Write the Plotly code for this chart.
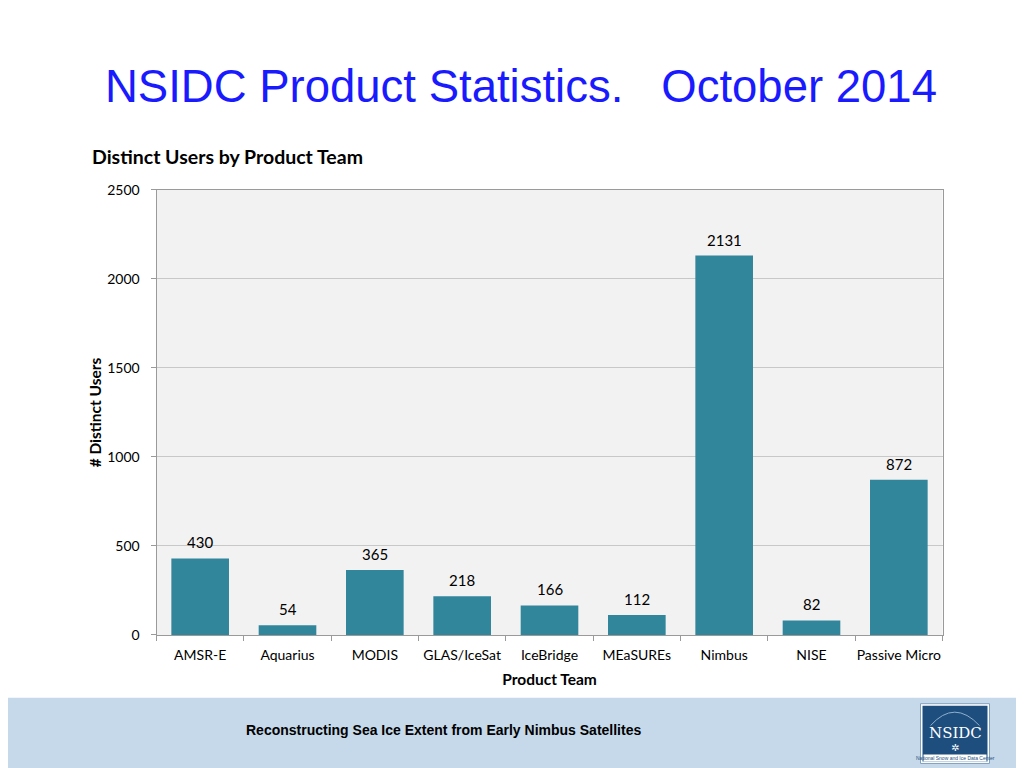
import plotly.graph_objects as go

categories = ["AMSR-E", "Aquarius", "MODIS", "GLAS/IceSat", "IceBridge", "MEaSUREs", "Nimbus", "NISE", "Passive Micro"]
users = [430, 54, 365, 218, 166, 112, 2131, 82, 872]
y_ticks = [0, 500, 1000, 1500, 2000, 2500]

W, H = 1024, 768
# map target screen pixels to paper fractions (page places the figure with a small offset)
def px(x): return (x - 7.5) / W
def py(y): return 1 - ((y - 15.4) / 0.982) / H

FONT = "Lato, Open Sans, sans-serif"

fig = go.Figure()
fig.add_trace(go.Bar(
    x=categories, y=users, width=0.66,
    marker=dict(color="#31869b", line=dict(width=0)),
    hoverinfo="x+y",
))

for c, v in zip(categories, users):
    fig.add_annotation(x=c, y=v, xref="x", yref="y", text=str(v), showarrow=False,
                       yanchor="bottom", yshift=5,
                       font=dict(family=FONT, size=15, color="#000000"))

fig.update_layout(
    width=W, height=H,
    margin=dict(l=0, r=0, t=0, b=0),
    paper_bgcolor="#ffffff",
    plot_bgcolor="#f2f2f2",
    showlegend=False,
    xaxis=dict(
        domain=[px(156), px(942)],
        tickson="boundaries", ticks="outside", ticklen=5, tickcolor="#9a9a9a",
        showline=True, linecolor="#9a9a9a", linewidth=1, mirror=True,
        tickfont=dict(family=FONT, size=14, color="#000000"),
        tickangle=0,
        ticklabelstandoff=7,
        title=dict(text="<b>Product Team</b>", font=dict(family=FONT, size=15.5, color="#000000"), standoff=12),
        showgrid=False,
    ),
    yaxis=dict(
        domain=[py(636), py(189)],
        range=[0, 2500], tickvals=y_ticks,
        ticks="outside", ticklen=5, tickcolor="#9a9a9a",
        showline=True, linecolor="#9a9a9a", linewidth=1, mirror=True,
        gridcolor="#c8c8c8", gridwidth=1,
        tickfont=dict(family=FONT, size=14, color="#000000"),
        ticklabelstandoff=8,
        title=dict(text="<b># Distinct Users</b>", font=dict(family=FONT, size=15.5, color="#000000"), standoff=1),
        zeroline=False,
    ),
)

# Slide title
fig.add_annotation(x=px(520), y=py(85), xref="paper", yref="paper",
                   text="NSIDC Product Statistics.   October 2014", showarrow=False,
                   font=dict(family="Liberation Sans, Arial, sans-serif", size=45.5, color="#1a1aff"),
                   xanchor="center", yanchor="middle")
# Chart title
fig.add_annotation(x=px(89), y=py(155), xref="paper", yref="paper",
                   text="<b>Distinct Users by Product Team</b>", showarrow=False,
                   font=dict(family=FONT, size=19.5, color="#000000"),
                   xanchor="left", yanchor="middle")

# Footer band
fig.add_shape(type="rect", xref="paper", yref="paper", x0=0, x1=1, y0=0, y1=py(699),
              fillcolor="#c5d9ea", line=dict(width=0), layer="below")
fig.add_annotation(x=px(243), y=py(731), xref="paper", yref="paper",
                   text="<b>Reconstructing Sea Ice Extent from Early Nimbus Satellites</b>", showarrow=False,
                   font=dict(family="Liberation Sans, Arial, sans-serif", size=14, color="#000000"),
                   xanchor="left", yanchor="middle")

# Logo
fig.add_shape(type="rect", xref="paper", yref="paper", x0=px(920), x1=px(989), y0=py(765), y1=py(705),
              fillcolor="#ffffff", line=dict(color="#7f9fbf", width=1))
fig.add_shape(type="rect", xref="paper", yref="paper", x0=px(922), x1=px(987), y0=py(763), y1=py(707),
              fillcolor="#1e4e7e", line=dict(width=0))
fig.add_shape(type="path", xref="paper", yref="paper",
              path=f"M {px(930)},{py(727)} Q {px(954)},{py(700)} {px(979)},{py(727)}",
              line=dict(color="#8fb0d0", width=1))
fig.add_annotation(x=px(954.5), y=py(734), xref="paper", yref="paper", text="NSIDC", showarrow=False,
                   font=dict(family="DejaVu Serif, serif", size=15, color="#ffffff"),
                   xanchor="center", yanchor="middle")
fig.add_annotation(x=px(954.5), y=py(749), xref="paper", yref="paper", text="✲", showarrow=False,
                   font=dict(family="DejaVu Sans, sans-serif", size=10, color="#ffffff"),
                   xanchor="center", yanchor="middle")
fig.add_shape(type="rect", xref="paper", yref="paper", x0=px(923), x1=px(986), y0=py(763), y1=py(756),
              fillcolor="#ffffff", line=dict(width=0))
fig.add_annotation(x=px(954.5), y=py(759.5), xref="paper", yref="paper", text="National Snow and Ice Data Center", showarrow=False,
                   font=dict(family="Liberation Sans, Arial, sans-serif", size=5, color="#1e4e7e"),
                   xanchor="center", yanchor="middle")

fig.write_html("out.html")
